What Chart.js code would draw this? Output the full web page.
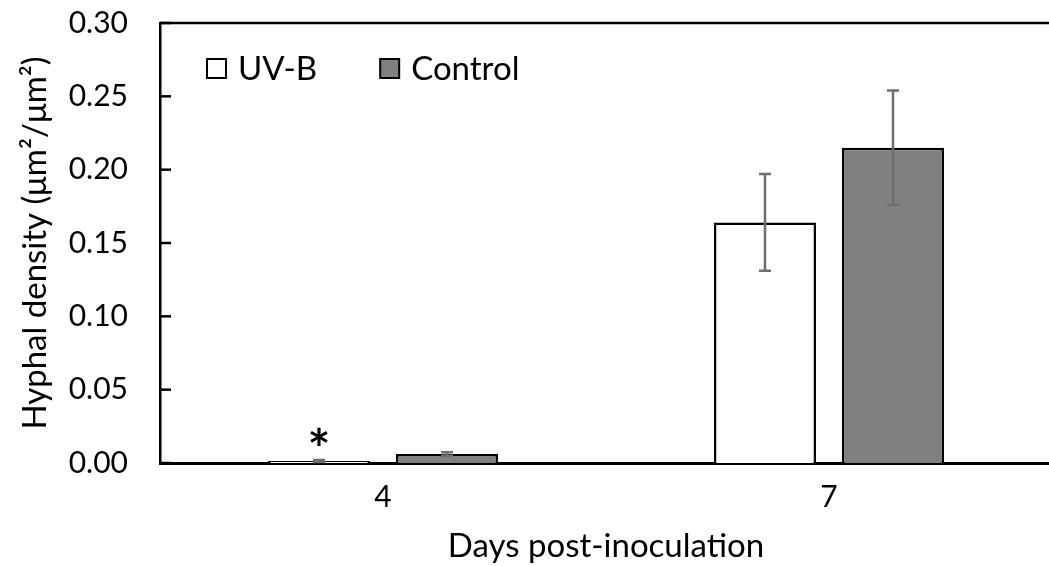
<!DOCTYPE html>
<html>
<head>
<meta charset="utf-8">
<script src="https://cdn.jsdelivr.net/npm/chart.js@4/dist/chart.umd.min.js"></script>
<style>
  html, body { margin: 0; padding: 0; background: #fff; overflow: hidden; }
  #wrap { width: 1056px; height: 566px; position: relative; }
</style>
</head>
<body>
<div id="wrap"><canvas id="densityChart"></canvas></div>
<script>
const days = ['4', '7'];
const uvbValues = [0.0014, 0.164];
const controlValues = [0.0062, 0.215];
const uvbErrors = [0.0007, 0.033];
const controlErrors = [0.0012, 0.039];
const uvbMarks = ['*', ''];
const yTicks = [0, 0.05, 0.10, 0.15, 0.20, 0.25, 0.30];

const FONT = 'Lato, "Noto Sans", sans-serif';

// frame, inner y ticks, error bars, asterisks and the in-plot legend
const extras = {
  id: 'extras',
  afterDatasetsDraw(chart) {
    const ctx = chart.ctx;
    const area = chart.chartArea;
    const y = chart.scales.y;
    const errs = [uvbErrors, controlErrors];
    const vals = [uvbValues, controlValues];

    ctx.save();
    ctx.strokeStyle = '#000';
    ctx.lineWidth = 2.5;
    ctx.beginPath();
    ctx.moveTo(area.left, area.top);
    ctx.lineTo(area.right, area.top);
    ctx.stroke();

    yTicks.forEach(t => {
      const py = y.getPixelForValue(t);
      ctx.beginPath();
      ctx.moveTo(area.left, py);
      ctx.lineTo(area.left + 11, py);
      ctx.stroke();
    });

    ctx.strokeStyle = '#6e6e6e';
    ctx.lineWidth = 2.5;
    chart.data.datasets.forEach((ds, di) => {
      const meta = chart.getDatasetMeta(di);
      meta.data.forEach((bar, i) => {
        const v = vals[di][i], e = errs[di][i];
        const top = y.getPixelForValue(v + e);
        const bot = y.getPixelForValue(v - e);
        ctx.beginPath();
        ctx.moveTo(bar.x, top); ctx.lineTo(bar.x, bot);
        ctx.moveTo(bar.x - 6, top); ctx.lineTo(bar.x + 6, top);
        ctx.moveTo(bar.x - 6, bot); ctx.lineTo(bar.x + 6, bot);
        ctx.stroke();
      });
    });

    const uvMeta = chart.getDatasetMeta(0);
    ctx.fillStyle = '#000';
    ctx.font = 'bold 54px ' + FONT;
    ctx.textAlign = 'center';
    ctx.textBaseline = 'alphabetic';
    uvbMarks.forEach((m, i) => {
      if (!m) return;
      const bar = uvMeta.data[i];
      ctx.fillText(m, bar.x, y.getPixelForValue(uvbValues[i] + uvbErrors[i]) + 8);
    });

    // legend inside the plot, top-left
    ctx.font = '33px ' + FONT;
    ctx.textAlign = 'left';
    ctx.textBaseline = 'middle';
    let lx = area.left + 47;
    const ly = area.top + 46;
    chart.data.datasets.forEach(ds => {
      ctx.fillStyle = ds.backgroundColor;
      ctx.fillRect(lx, ly - 10, 19, 19);
      ctx.strokeStyle = '#000';
      ctx.lineWidth = 2;
      ctx.strokeRect(lx, ly - 10, 19, 19);
      ctx.fillStyle = '#000';
      ctx.fillText(ds.label, lx + 31, ly);
      lx += 31 + ctx.measureText(ds.label).width + 63;
    });
    ctx.restore();
  }
};

const ctx = document.getElementById('densityChart').getContext('2d');
const densityChart = new Chart(ctx, {
  type: 'bar',
  data: {
    labels: days,
    datasets: [{
      label: 'UV-B',
      data: uvbValues,
      backgroundColor: '#ffffff',
      borderColor: '#000000',
      borderWidth: 2.5,
      borderSkipped: 'bottom'
    }, {
      label: 'Control',
      data: controlValues,
      backgroundColor: '#808080',
      borderColor: '#000000',
      borderWidth: 2.5,
      borderSkipped: 'bottom'
    }]
  },
  options: {
    responsive: true,
    maintainAspectRatio: false,
    animation: false,
    events: [],
    categoryPercentage: 0.574,
    barPercentage: 0.797,
    layout: { padding: { top: 23, right: 4, left: 0, bottom: 0 } },
    plugins: {
      tooltip: { enabled: false },
      legend: { display: false }
    },
    scales: {
      x: {
        grid: { display: false, drawTicks: false },
        border: { display: true, color: '#000', width: 3 },
        ticks: { color: '#000', font: { family: FONT, size: 30 }, padding: 16 },
        title: {
          display: true,
          text: 'Days post-inoculation',
          color: '#000',
          font: { family: FONT, size: 33 },
          padding: { top: 0, bottom: 0 }
        },
        afterFit(scale) { scale.height = 103; }
      },
      y: {
        min: 0,
        max: 0.30,
        grid: { display: false, drawTicks: false },
        border: { display: true, color: '#000', width: 2.5 },
        ticks: {
          stepSize: 0.05,
          color: '#000',
          font: { family: FONT, size: 30 },
          padding: 32,
          callback: v => v.toFixed(2)
        },
        title: {
          display: true,
          text: 'Hyphal density (μm²/μm²)',
          color: '#000',
          font: { family: FONT, size: 33 },
          padding: { top: 16, bottom: 0 }
        },
        afterFit(scale) {
          scale.width = 160;
          scale.paddingTop = 0;
          scale.paddingBottom = 0;
        }
      }
    }
  },
  plugins: [extras]
});
</script>
</body>
</html>
